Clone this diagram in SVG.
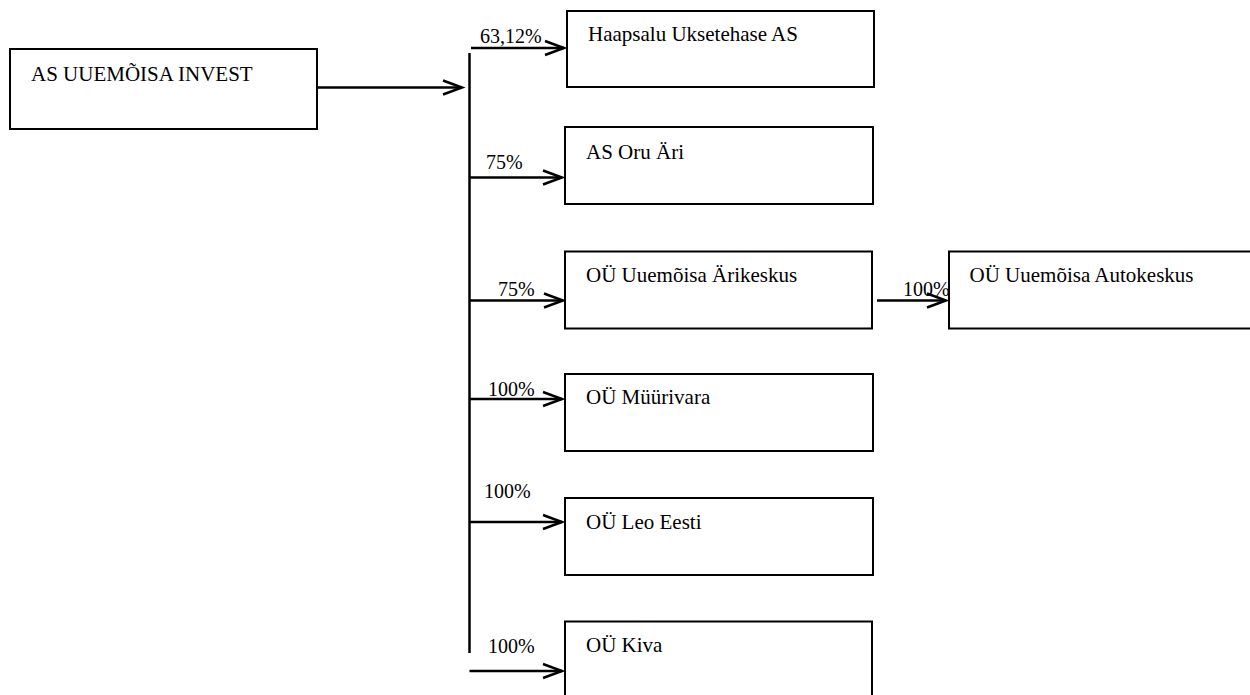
<svg xmlns="http://www.w3.org/2000/svg" width="1250" height="695" viewBox="0 0 1250 695">
<style>
.box{fill:#fff;stroke:#000;stroke-width:2}
.t{font-family:"Liberation Serif","Times New Roman",serif;font-size:21px;fill:#000}
.l{font-family:"Liberation Serif","Times New Roman",serif;font-size:20px;fill:#000}
.c{stroke:#000;stroke-width:2.5;fill:none}
</style>
<defs>
<marker id="ah" markerUnits="userSpaceOnUse" markerWidth="24" markerHeight="18" refX="20" refY="8" orient="auto" overflow="visible">
<path d="M1,1 L20,8 L1,15" fill="none" stroke="#000" stroke-width="2.5"/>
</marker>
</defs>
<rect width="1250" height="695" fill="#fff"/>
<g id="connectors">
<line class="c" x1="317" y1="87.5" x2="462" y2="87.5" marker-end="url(#ah)"/>
<line class="c" x1="469.5" y1="53" x2="469.5" y2="653"/>
<line class="c" x1="471" y1="48" x2="564" y2="48" marker-end="url(#ah)"/>
<line class="c" x1="469.5" y1="177.5" x2="562" y2="177.5" marker-end="url(#ah)"/>
<line class="c" x1="469.5" y1="300.5" x2="563" y2="300.5" marker-end="url(#ah)"/>
<line class="c" x1="877" y1="300.5" x2="946" y2="300.5" marker-end="url(#ah)"/>
<line class="c" x1="469.5" y1="399" x2="562" y2="399" marker-end="url(#ah)"/>
<line class="c" x1="469.5" y1="522" x2="562" y2="522" marker-end="url(#ah)"/>
<line class="c" x1="469.5" y1="671" x2="562" y2="671" marker-end="url(#ah)"/>
<text class="l" x="480" y="42.5">63,12%</text>
<text class="l" x="486" y="169">75%</text>
<text class="l" x="498" y="296">75%</text>
<text class="l" x="903" y="296">100%</text>
<text class="l" x="488" y="396">100%</text>
<text class="l" x="484" y="498">100%</text>
<text class="l" x="488" y="652.5">100%</text>
</g>
<g id="node-main">
<rect class="box" x="10" y="49" width="307" height="80"/>
<text class="t" x="31" y="81">AS UUEMÕISA INVEST</text>
</g>
<g id="node-haapsalu">
<rect class="box" x="567" y="11" width="307" height="76"/>
<text class="t" x="588" y="41">Haapsalu Uksetehase AS</text>
</g>
<g id="node-oru">
<rect class="box" x="565" y="127" width="308" height="77"/>
<text class="t" x="586" y="158.5">AS Oru Äri</text>
</g>
<g id="node-arikeskus">
<rect class="box" x="565" y="251.5" width="307" height="77"/>
<text class="t" x="586" y="281.5">OÜ Uuemõisa Ärikeskus</text>
</g>
<g id="node-autokeskus">
<rect class="box" x="949" y="251.5" width="310" height="77"/>
<text class="t" x="969.5" y="281.5">OÜ Uuemõisa Autokeskus</text>
</g>
<g id="node-muurivara">
<rect class="box" x="565" y="374" width="308" height="77"/>
<text class="t" x="586" y="404">OÜ Müürivara</text>
</g>
<g id="node-leo">
<rect class="box" x="565" y="498" width="308" height="77"/>
<text class="t" x="586" y="529">OÜ Leo Eesti</text>
</g>
<g id="node-kiva">
<rect class="box" x="565" y="621.5" width="307" height="80"/>
<text class="t" x="586" y="652">OÜ Kiva</text>
</g>
</svg>
